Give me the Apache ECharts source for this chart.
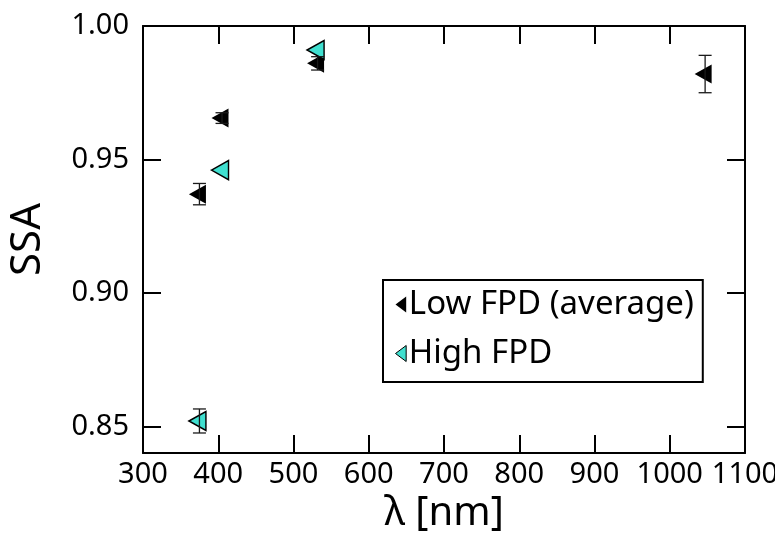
<!DOCTYPE html>
<html>
<head>
<meta charset="utf-8">
<script src="https://cdn.jsdelivr.net/npm/echarts@6/dist/echarts.min.js"></script>
<style>
  html, body { margin: 0; padding: 0; background: #fff; }
  #chart { width: 775px; height: 536px; }
</style>
</head>
<body>
<div id="chart"></div>
<script>
// Single scattering albedo by wavelength, low vs high FPD
const lowWavelengths = [375, 405, 532, 1047];
const lowSSA = [0.937, 0.9655, 0.986, 0.982];
const lowErr = [0.004, 0.002, 0.0025, 0.007];

const highWavelengths = [375, 405, 532];
const highSSA = [0.852, 0.946, 0.991];
const highErr = [0.0045, 0, 0];

const yTicks = [0.85, 0.90, 0.95, 1.00];
const xTickStep = 100;

const FONT = 'Noto Sans';
const leftTri = 'path://M0,10L20,0L20,20Z';
const legendTri = 'path://M0,6L8,0L8,12Z';

function pairs(xs, ys) { return xs.map((x, i) => [x, ys[i]]); }
function errRows(xs, ys, es) { return xs.map((x, i) => [x, ys[i], es[i]]); }

function renderErr(params, api) {
  const x = api.value(0), y = api.value(1), e = api.value(2);
  if (!e) return null;
  const top = api.coord([x, y + e]);
  const bot = api.coord([x, y - e]);
  const cap = 6.5;
  const style = { stroke: '#1a1a1a', lineWidth: 1.3 };
  return {
    type: 'group',
    children: [
      { type: 'line', shape: { x1: top[0], y1: top[1], x2: bot[0], y2: bot[1] }, style },
      { type: 'line', shape: { x1: top[0] - cap, y1: top[1], x2: top[0] + cap, y2: top[1] }, style },
      { type: 'line', shape: { x1: bot[0] - cap, y1: bot[1], x2: bot[0] + cap, y2: bot[1] }, style }
    ]
  };
}

const axisLineStyle = { color: '#000', width: 2 };
const tickStyle = { color: '#000', width: 2 };

const chart = echarts.init(document.getElementById('chart'));
chart.setOption({
  animation: false,
  backgroundColor: '#fff',
  grid: { left: 143, top: 26, right: 30, bottom: 83, outerBoundsMode: 'none', containLabel: false },
  legend: {
    orient: 'vertical',
    left: 383,
    top: 280,
    borderColor: '#000',
    borderWidth: 2,
    padding: [8, 9, 12, 12],
    itemGap: 16,
    itemWidth: 12,
    itemHeight: 16,
    textStyle: { fontFamily: FONT, fontSize: 33, color: '#000', padding: [0, 0, 0, -3] },
    data: [
      { name: 'Low FPD (average)', icon: legendTri, itemStyle: { color: '#000', borderWidth: 0 } },
      { name: 'High FPD', icon: legendTri, itemStyle: { color: '#40e0d0', borderColor: '#000', borderWidth: 1 } }
    ]
  },
  xAxis: [
    {
      type: 'value', min: 300, max: 1100, interval: xTickStep,
      name: 'λ [nm]', nameLocation: 'middle', nameGap: 41,
      nameTextStyle: { fontFamily: FONT, fontSize: 40, color: '#000' },
      axisLine: { show: true, lineStyle: axisLineStyle },
      axisTick: { show: true, inside: true, length: 18, lineStyle: tickStyle },
      axisLabel: { fontFamily: FONT, fontSize: 29, color: '#000', margin: 7, formatter: v => String(v) },
      splitLine: { show: false }
    },
    {
      type: 'value', position: 'top', min: 300, max: 1100, interval: xTickStep,
      axisLine: { show: true, lineStyle: axisLineStyle },
      axisTick: { show: true, inside: true, length: 18, lineStyle: tickStyle },
      axisLabel: { show: false },
      splitLine: { show: false }
    }
  ],
  yAxis: [
    {
      type: 'value', min: 0.84, max: 1.0,
      name: 'SSA', nameLocation: 'middle', nameGap: 94,
      nameTextStyle: { fontFamily: FONT, fontSize: 42, color: '#000' },
      axisLine: { show: true, lineStyle: axisLineStyle },
      axisTick: { show: true, inside: true, length: 18, lineStyle: tickStyle, customValues: yTicks },
      axisLabel: {
        fontFamily: FONT, fontSize: 29, color: '#000', margin: 14,
        customValues: yTicks,
        formatter: v => v.toFixed(2)
      },
      splitLine: { show: false }
    },
    {
      type: 'value', position: 'right', min: 0.84, max: 1.0,
      axisLine: { show: true, lineStyle: axisLineStyle },
      axisTick: { show: true, inside: true, length: 18, lineStyle: tickStyle, customValues: yTicks },
      axisLabel: { show: false, customValues: yTicks },
      splitLine: { show: false }
    }
  ],
  series: [
    {
      name: 'Low FPD (average)',
      type: 'scatter',
      data: pairs(lowWavelengths, lowSSA),
      symbol: leftTri,
      symbolSize: [17, 19],
      symbolOffset: [-2, 0],
      itemStyle: { color: '#000', opacity: 1 },
      z: 3
    },
    {
      name: 'High FPD',
      type: 'scatter',
      data: pairs(highWavelengths, highSSA),
      symbol: leftTri,
      symbolSize: [17, 19],
      symbolOffset: [-2, 0],
      itemStyle: { color: '#40e0d0', borderColor: '#000', borderWidth: 1.5, opacity: 1 },
      z: 4
    },
    {
      type: 'custom',
      data: errRows(lowWavelengths, lowSSA, lowErr),
      renderItem: renderErr,
      z: 5,
      silent: true
    },
    {
      type: 'custom',
      data: errRows(highWavelengths, highSSA, highErr),
      renderItem: renderErr,
      z: 5,
      silent: true
    }
  ]
});
</script>
</body>
</html>
